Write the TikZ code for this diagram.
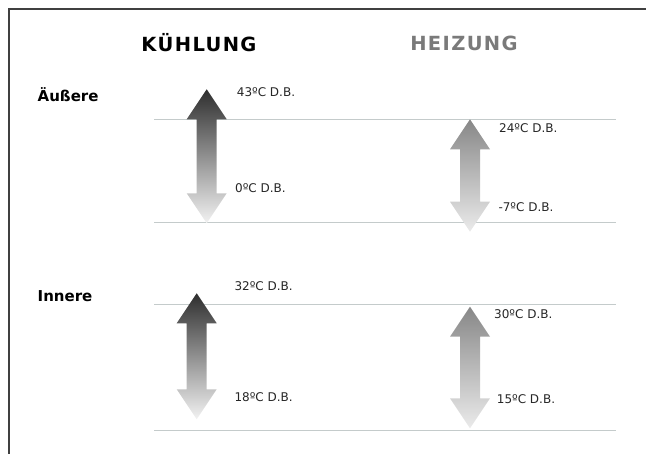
\documentclass[tikz,border=0pt]{standalone}
\usepackage{fontspec}
\setmainfont{DejaVu Sans}
\newfontfamily\headfont[LetterSpace=7]{DejaVu Sans}
\usepackage{tikz}

\definecolor{framegray}{HTML}{404040}
\definecolor{rulegray}{HTML}{C4CBCB}
\definecolor{heatgray}{HTML}{7A7A7A}
\tikzset{
  temp/.style={anchor=base west, inner sep=0pt, text=black!85,
    font=\fontsize{12}{12}\selectfont},
  side/.style={anchor=base west, inner sep=0pt,
    font=\fontsize{15}{15}\selectfont\bfseries},
  head/.style={anchor=base, inner sep=0pt,
    font=\fontsize{19.5}{19.5}\selectfont\headfont\bfseries},
  sepline/.style={draw=rulegray, line width=1pt},
}
% double arrow: x, top, bottom, top colour, bottom colour
\newcommand{\updown}[5]{%
  \shade[top color=#4, bottom color=#5] (#1,#2) -- (#1+20,#2+30) -- (#1+10,#2+30)
    -- (#1+10,#3-30) -- (#1+20,#3-30) -- (#1,#3) -- (#1-20,#3-30) -- (#1-10,#3-30)
    -- (#1-10,#2+30) -- (#1-20,#2+30) -- cycle;}

\begin{document}
\begin{tikzpicture}[x=1pt,y=-1pt]
\useasboundingbox (0,0) rectangle (646,454);
\draw[framegray, line width=2pt] (9,454) -- (9,9) -- (646,9);

\node[head] (cool) at (199,51.5) {KÜHLUNG};
\node[head, text=heatgray] (heat) at (464,50.7) {HEIZUNG};
\node[side] (outer) at (37.5,101.7) {Äußere};
\node[side] (inner) at (37.5,302) {Innere};

\foreach \y in {120,222.5,305,430.5}
  \draw[sepline] (154,\y) -- (615.5,\y);

\updown{206.7}{89.3}{223.3}{black!82}{black!5}
\updown{470}{119.3}{231.7}{black!47}{black!8}
\updown{196.7}{293.3}{419.3}{black!82}{black!5}
\updown{470}{306.7}{428.3}{black!47}{black!8}

\node[temp] (t43) at (236.7,97) {43ºC D.B.};
\node[temp] (t0) at (235,192.6) {0ºC D.B.};
\node[temp] (t24) at (499,132.6) {24ºC D.B.};
\node[temp] (t-7) at (498.3,211.6) {-7ºC D.B.};
\node[temp] (t32) at (234.3,291) {32ºC D.B.};
\node[temp] (t18) at (234.3,401.6) {18ºC D.B.};
\node[temp] (t30) at (494,318.6) {30ºC D.B.};
\node[temp] (t15) at (496.7,403.3) {15ºC D.B.};
\end{tikzpicture}
\end{document}
